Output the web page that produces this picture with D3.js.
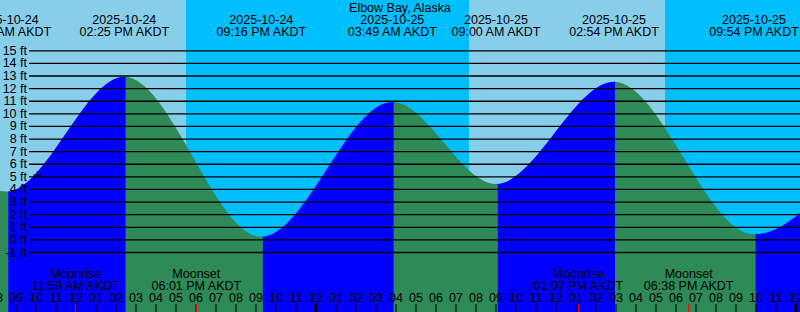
<!DOCTYPE html>
<html>
<head>
<meta charset="utf-8">
<script src="https://cdn.jsdelivr.net/npm/d3@7"></script>
<style>
  body { margin: 0; background: #fff; }
  svg { display: block; font-family: "Liberation Sans", Arial, sans-serif; }
</style>
</head>
<body>
<svg id="tide-chart"></svg>
<script>
// tide extremes (AKDT), first and last are off screen
const tideTimes = ['2025-10-24T02:00', '2025-10-24T08:32', '2025-10-24T14:25', '2025-10-24T21:16',
  '2025-10-25T03:49', '2025-10-25T09:00', '2025-10-25T14:54', '2025-10-25T21:54', '2025-10-26T04:30'];
const tideHeights = [12.0, 3.8, 12.9, 0.2, 10.9, 4.4, 12.5, 0.4, 11.0];

// daylight spans
const dayStarts = ['2025-10-24T07:39', '2025-10-25T07:39'];
const dayEnds = ['2025-10-24T17:30', '2025-10-25T17:27'];

const moonTimes = ['2025-10-24T11:59', '2025-10-24T18:01', '2025-10-25T13:07', '2025-10-25T18:38'];
const moonKinds = ['Moonrise', 'Moonset', 'Moonrise', 'Moonset'];

const feetTicks = d3.range(-1, 16);

const nowTime = '2025-10-24T10:04';
const nowLevel = 5.1;

const title = 'Elbow Bay, Alaska';

const width = 800;
const height = 312;

const parse = d3.utcParse('%Y-%m-%dT%H:%M');
const fmtDate = d3.utcFormat('%Y-%m-%d');
const fmtTime = d3.utcFormat('%I:%M %p AKDT');
const fmtHour = d3.utcFormat('%I');

const tides = tideTimes.map((t, i) => ({ t: parse(t), h: tideHeights[i] }));

const svg = d3.select('#tide-chart').attr('width', width).attr('height', height);

const x = d3
  .scaleUtc()
  .domain([parse('2025-10-24T08:12'), parse('2025-10-26T00:12')])
  .range([0, width]);

const y = d3
  .scaleLinear()
  .domain([-1, 15])
  .range([252, 50.3]);

// night is the default, day bands on top
svg.append('rect').attr('width', width).attr('height', height).attr('fill', '#00bfff');
svg
  .selectAll('.day')
  .data(dayStarts)
  .enter()
  .append('rect')
  .attr('class', 'day')
  .attr('x', d => x(parse(d)))
  .attr('width', (d, i) => x(parse(dayEnds[i])) - x(parse(d)))
  .attr('y', 0)
  .attr('height', height)
  .attr('fill', '#87ceeb');

// water: one area shape, split into rising / falling bands
const area = d3
  .area()
  .x(d => x(d.t))
  .y0(height)
  .y1(d => y(d.h))
  .curve(d3.curveMonotoneX);

svg
  .append('defs')
  .append('clipPath')
  .attr('id', 'water-clip')
  .append('path')
  .attr('d', area(tides));

const water = svg.append('g').attr('clip-path', 'url(#water-clip)');
water
  .selectAll('rect')
  .data(tides.slice(0, -1))
  .enter()
  .append('rect')
  .attr('x', d => x(d.t) + 1.5)
  .attr('width', (d, i) => x(tides[i + 1].t) - x(d.t))
  .attr('y', 0)
  .attr('height', height)
  .attr('fill', (d, i) => (tides[i + 1].h > d.h ? '#0000ff' : '#2e8b57'));
// strip left of the first band
water
  .append('rect')
  .attr('x', x(tides[0].t) - 200)
  .attr('width', 201.5)
  .attr('height', height)
  .attr('fill', '#2e8b57');

// hour ticks along the bottom
const hours = d3.utcHour.range(x.invert(-20), x.invert(width + 20));
const hourAxis = svg.append('g').attr('id', 'hour-axis');
hourAxis
  .selectAll('line')
  .data(hours)
  .enter()
  .append('line')
  .attr('x1', d => x(d))
  .attr('x2', d => x(d))
  .attr('y1', 304)
  .attr('y2', height)
  .attr('stroke', '#000')
  .attr('stroke-width', d => (d.getUTCHours() === 0 ? 3 : 1));
hourAxis
  .selectAll('text')
  .data(hours)
  .enter()
  .append('text')
  .attr('x', d => x(d))
  .attr('y', 302)
  .attr('text-anchor', 'middle')
  .attr('font-size', '12.5px')
  .text(d => fmtHour(d));

// moon rise / set
const moon = svg.append('g').attr('id', 'moon');
moon
  .selectAll('line')
  .data(moonTimes)
  .enter()
  .append('line')
  .attr('x1', d => x(parse(d)))
  .attr('x2', d => x(parse(d)))
  .attr('y1', 304)
  .attr('y2', height)
  .attr('stroke', '#ff0000');
const moonText = moon
  .selectAll('text')
  .data(moonTimes)
  .enter()
  .append('text')
  .attr('text-anchor', 'middle')
  .attr('font-size', '12.5px');
moonText
  .append('tspan')
  .attr('x', d => x(parse(d)))
  .attr('y', 277.5)
  .text((d, i) => moonKinds[i]);
moonText
  .append('tspan')
  .attr('x', d => x(parse(d)))
  .attr('y', 289.5)
  .text(d => fmtTime(parse(d)));

// title and tide extreme labels
svg
  .append('text')
  .attr('x', width / 2)
  .attr('y', 12)
  .attr('text-anchor', 'middle')
  .attr('font-size', '12.5px')
  .text(title);

const tideText = svg
  .append('g')
  .selectAll('text')
  .data(tides)
  .enter()
  .append('text')
  .attr('text-anchor', 'middle')
  .attr('font-size', '12.5px');
tideText
  .append('tspan')
  .attr('x', d => x(d.t))
  .attr('y', 24)
  .text(d => fmtDate(d.t));
tideText
  .append('tspan')
  .attr('x', d => x(d.t))
  .attr('y', 36)
  .text(d => fmtTime(d.t));

// feet grid
const leftAxis = d3
  .axisLeft(y)
  .tickValues(feetTicks)
  .tickSize(-(width - 29))
  .tickPadding(2)
  .tickFormat(d => d + ' ft');

svg
  .append('g')
  .attr('transform', 'translate(29,0)')
  .call(leftAxis)
  .call(g => g.select('.domain').remove())
  .call(g => g.selectAll('.tick line').attr('stroke', '#000').attr('stroke-width', 1.3))
  .call(g =>
    g
      .selectAll('.tick text')
      .attr('fill', '#000')
      .attr('font-size', '12.5px')
      .attr('font-family', '"Liberation Sans", Arial, sans-serif')
  );

// current level marker
svg
  .append('path')
  .attr('transform', `translate(${x(parse(nowTime))},${y(nowLevel)})`)
  .attr('d', 'M-4,0H4M0,-4V4')
  .attr('stroke', '#000')
  .attr('fill', 'none');
</script>
</body>
</html>
